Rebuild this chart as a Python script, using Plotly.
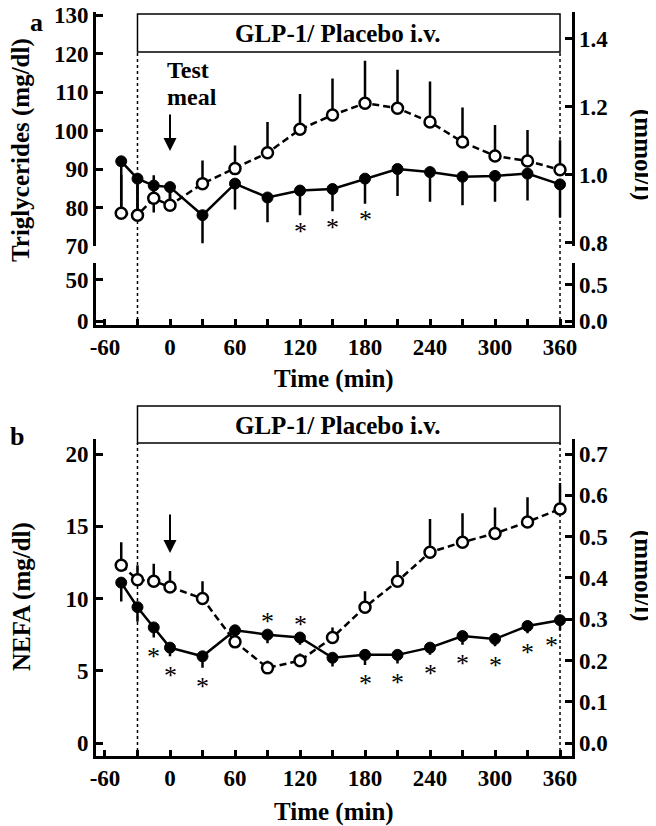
import plotly.graph_objects as go

# ---------------- data ----------------
time_min = [-45, -30, -15, 0, 30, 60, 90, 120, 150, 180, 210, 240, 270, 300, 330, 360]

tg_glp1 = [92.0, 87.5, 85.7, 85.3, 78.0, 86.2, 82.6, 84.4, 84.8, 87.5, 90.0, 89.2, 88.0, 88.2, 88.8, 86.0]
tg_glp1_sem = [13.0, 9.0, 7.0, 5.0, 7.3, 6.7, 6.4, 6.4, 5.8, 6.5, 7.0, 7.7, 7.4, 6.7, 7.0, 8.5]
tg_placebo = [78.5, 78.0, 82.4, 80.6, 86.2, 90.1, 94.2, 100.3, 104.0, 107.1, 105.8, 102.2, 97.0, 93.4, 92.1, 89.8]
tg_placebo_sem = [10.0, 8.0, 6.0, 4.5, 6.0, 6.0, 8.0, 9.2, 9.5, 11.0, 10.0, 10.5, 9.0, 8.0, 8.0, 7.7]

nefa_glp1 = [11.1, 9.4, 8.0, 6.6, 6.0, 7.8, 7.5, 7.3, 5.9, 6.1, 6.1, 6.6, 7.4, 7.2, 8.1, 8.5]
nefa_glp1_sem = [1.3, 1.0, 0.7, 0.6, 0.8, 0.4, 0.6, 0.5, 0.6, 0.7, 0.6, 0.5, 0.6, 0.5, 0.5, 0.7]
nefa_placebo = [12.3, 11.3, 11.2, 10.8, 10.0, 7.0, 5.2, 5.7, 7.3, 9.4, 11.2, 13.2, 13.9, 14.5, 15.3, 16.2]
nefa_placebo_sem = [1.6, 1.0, 1.2, 1.1, 1.2, 0.8, 0.5, 0.5, 0.7, 1.1, 1.4, 2.3, 2.0, 1.8, 1.7, 1.8]

sig_tg_below = [120, 150, 180]
sig_nefa_below = [-15, 0, 30, 180, 210, 240, 270, 300, 330, 360]
sig_nefa_above = [90, 120]

x_ticks = [-60, -30, 0, 30, 60, 90, 120, 150, 180, 210, 240, 270, 300, 330, 360]
x_ticklabels = ["-60", "", "0", "", "60", "", "120", "", "180", "", "240", "", "300", "", "360"]

tg_upper_ticks = [70, 80, 90, 100, 110, 120, 130]
tg_lower_ticks = [0, 50, 70]
tg_lower_labels = ["0", "50", ""]
tg_mmol_upper_ticks = [0.8, 1.0, 1.2, 1.4]
tg_mmol_upper_labels = ["0.8", "1.0", "1.2", "1.4"]
tg_mmol_lower_ticks = [0.0, 0.5, 0.79]
tg_mmol_lower_labels = ["0.0", "0.5", ""]
nefa_ticks = [0, 5, 10, 15, 20]
nefa_mmol_ticks = [0.0, 0.1, 0.2, 0.3, 0.4, 0.5, 0.6, 0.7]
nefa_mmol_labels = ["0.0", "0.1", "0.2", "0.3", "0.4", "0.5", "0.6", "0.7"]

TG_FACTOR = 88.5        # mg/dl per mmol/l
NEFA_FACTOR = 20 / 0.7  # mg/dl per mmol/l

infusion = [-30, 360]
meal_time = 0

# ---------------- layout helpers ----------------
W, H = 656, 826
OFF = 8  # page body margin in which the figure sits
FONT = "Liberation Serif"


def fy(p):
    return 1 - (p - OFF) / H


def fx(p):
    return (p - OFF) / W


XR = [-68.3, 370.6]
TG_UP = [70, 130.78]
TG_LO = [-4.27, 70.7]
NEFA_R = [-0.865, 21.04]

fig = go.Figure()
n = len(time_min)
zeros = [0] * n


def series(y, sem, xa, ya, filled):
    if filled:
        err = dict(type="data", symmetric=False, array=zeros, arrayminus=sem,
                   width=0, thickness=2.5, color="black")
        return go.Scatter(x=time_min, y=y, xaxis=xa, yaxis=ya, mode="lines+markers",
                          line=dict(color="black", width=2.5),
                          marker=dict(symbol="circle", size=11, color="black",
                                      line=dict(color="black", width=1)),
                          error_y=err, showlegend=False, hoverinfo="skip")
    err = dict(type="data", symmetric=False, array=sem, arrayminus=zeros,
               width=0, thickness=2.5, color="black")
    return go.Scatter(x=time_min, y=y, xaxis=xa, yaxis=ya, mode="lines+markers",
                      line=dict(color="black", width=2.5, dash="7px,4px"),
                      marker=dict(symbol="circle", size=11, color="white",
                                  line=dict(color="black", width=2.5)),
                      error_y=err, showlegend=False, hoverinfo="skip")


# panel a (filled first, open on top)
fig.add_trace(series(tg_glp1, tg_glp1_sem, "x", "y", True))
fig.add_trace(series(tg_placebo, tg_placebo_sem, "x", "y", False))
for ya in ["y2", "y3", "y4"]:
    fig.add_trace(go.Scatter(x=[None], y=[None], xaxis="x", yaxis=ya,
                             showlegend=False, hoverinfo="skip"))
# panel b (open first, filled on top)
fig.add_trace(series(nefa_placebo, nefa_placebo_sem, "x2", "y5", False))
fig.add_trace(series(nefa_glp1, nefa_glp1_sem, "x2", "y5", True))
fig.add_trace(go.Scatter(x=[None], y=[None], xaxis="x2", yaxis="y6",
                         showlegend=False, hoverinfo="skip"))

tickfont = dict(family=FONT, size=23, color="black", weight="bold")
axis_common = dict(showline=True, linewidth=3, linecolor="black", ticks="inside",
                   tickwidth=2.5, tickcolor="black", showgrid=False, zeroline=False,
                   tickfont=tickfont, fixedrange=True, automargin=False,
                   ticklabeloverflow="allow")

XD = [fx(96), fx(571.5)]
fig.update_layout(
    width=W, height=H, margin=dict(l=0, r=0, t=0, b=0, pad=0, autoexpand=False),
    paper_bgcolor="white", plot_bgcolor="rgba(0,0,0,0)",
    xaxis=dict(domain=XD, range=XR, anchor="y2", tickmode="array", tickvals=x_ticks,
               ticktext=x_ticklabels, ticklen=6, **axis_common),
    yaxis=dict(domain=[fy(246), fy(12)], range=TG_UP, anchor="x", tickmode="array",
               tickvals=tg_upper_ticks, ticklen=7, **axis_common),
    yaxis2=dict(domain=[fy(324.5), fy(263)], range=TG_LO, anchor="x", tickmode="array",
                tickvals=tg_lower_ticks, ticktext=tg_lower_labels, ticklen=7, **axis_common),
    yaxis3=dict(overlaying="y", side="right", anchor="x",
                range=[TG_UP[0] / TG_FACTOR, TG_UP[1] / TG_FACTOR], tickmode="array",
                tickvals=tg_mmol_upper_ticks, ticktext=tg_mmol_upper_labels, ticklen=7,
                **axis_common),
    yaxis4=dict(overlaying="y2", side="right", anchor="x",
                range=[TG_LO[0] / TG_FACTOR, TG_LO[1] / TG_FACTOR], tickmode="array",
                tickvals=tg_mmol_lower_ticks, ticktext=tg_mmol_lower_labels, ticklen=7,
                **axis_common),
    xaxis2=dict(domain=XD, range=XR, anchor="y5", tickmode="array", tickvals=x_ticks,
                ticktext=x_ticklabels, ticklen=6, **axis_common),
    yaxis5=dict(domain=[fy(755.5), fy(439)], range=NEFA_R, anchor="x2", tickmode="array",
                tickvals=nefa_ticks, ticklen=7, **axis_common),
    yaxis6=dict(overlaying="y5", side="right", anchor="x2",
                range=[NEFA_R[0] / NEFA_FACTOR, NEFA_R[1] / NEFA_FACTOR], tickmode="array",
                tickvals=nefa_mmol_ticks, ticktext=nefa_mmol_labels, ticklen=7,
                **axis_common),
)

# ---------------- infusion boxes & dotted lines ----------------
shapes = []
for xa, top, bot, axis_y in [("x", 14, 52, 326), ("x2", 406, 443, 757)]:
    shapes.append(dict(type="rect", xref=xa, yref="paper", x0=infusion[0], x1=infusion[1],
                       y0=fy(bot), y1=fy(top), line=dict(color="black", width=1.5),
                       fillcolor="white", layer="below"))
    for xv in infusion:
        shapes.append(dict(type="line", xref=xa, yref="paper", x0=xv, x1=xv,
                           y0=fy(axis_y), y1=fy(bot), line=dict(color="black", width=1.5, dash="dot"),
                           layer="below"))
fig.update_layout(shapes=shapes)

ann = []


def bold(s):
    return dict(family=FONT, size=s, color="black", weight="bold")


def text_ann(text, xref, x, y, size, angle=0, xanchor="center", xshift=0):
    return dict(text=text, xref=xref, yref="paper", x=x, y=y, xanchor=xanchor,
                yanchor="middle", textangle=angle, xshift=xshift, showarrow=False,
                font=bold(size))


ann.append(text_ann("GLP-1/ Placebo i.v.", "x", 155, fy(34), 25))
ann.append(text_ann("GLP-1/ Placebo i.v.", "x2", 155, fy(425), 25))
ann.append(text_ann("a", "paper", fx(36), fy(23), 26))
ann.append(text_ann("b", "paper", fx(17), fy(436), 26))
ann.append(text_ann("Triglycerides (mg/dl)", "paper", fx(21), fy(150), 25, angle=-90))
ann.append(text_ann("(mmol/l)", "paper", fx(643), fy(155), 25, angle=90))
ann.append(text_ann("NEFA (mg/dl)", "paper", fx(22), fy(597), 25, angle=-90))
ann.append(text_ann("(mmol/l)", "paper", fx(643), fy(576), 25, angle=90))
ann.append(text_ann("Time (min)", "paper", fx(334), fy(379), 25))
ann.append(text_ann("Time (min)", "paper", fx(334), fy(812), 25))
ann.append(text_ann("Test", "x", meal_time, fy(70), 24, xanchor="left", xshift=-5))
ann.append(text_ann("meal", "x", meal_time, fy(97), 24, xanchor="left", xshift=-5))
ann.append(dict(text="", xref="x", yref="paper", x=meal_time, y=fy(151), ax=0, ay=-38,
                showarrow=True, arrowhead=2, arrowsize=1.3, arrowwidth=2, arrowcolor="black"))
ann.append(dict(text="", xref="x2", yref="paper", x=meal_time, y=fy(553), ax=0, ay=-40,
                showarrow=True, arrowhead=2, arrowsize=1.3, arrowwidth=2, arrowcolor="black"))

star_font = dict(family=FONT, size=26, color="black")


def star(xref, yref, x, y, yshift, xshift=0):
    return dict(text="*", xref=xref, yref=yref, x=x, y=y, xanchor="center",
                yanchor="middle", xshift=xshift, yshift=yshift, showarrow=False,
                font=star_font)


for tt in sig_tg_below:
    i = time_min.index(tt)
    ann.append(star("x", "y", tt, tg_glp1[i] - tg_glp1_sem[i], -16))
for tt in sig_nefa_below:
    i = time_min.index(tt)
    if tt == infusion[1]:
        ann.append(star("x2", "y5", tt, nefa_glp1[i] - nefa_glp1_sem[i], -15, -9))
    else:
        ann.append(star("x2", "y5", tt, nefa_glp1[i] - nefa_glp1_sem[i], -19))
for tt in sig_nefa_above:
    i = time_min.index(tt)
    ann.append(star("x2", "y5", tt, nefa_glp1[i], 13))
fig.update_layout(annotations=ann)

fig.write_html("out.html")
